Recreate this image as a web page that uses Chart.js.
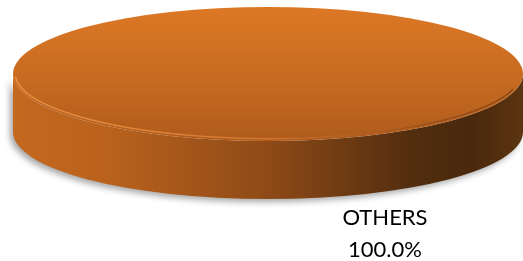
<!DOCTYPE html>
<html>
<head>
<meta charset="utf-8">
<script src="https://cdn.jsdelivr.net/npm/chart.js@4/dist/chart.umd.min.js"></script>
<style>
  html, body { margin: 0; padding: 0; background: #fff; }
  #wrap { width: 523px; height: 261px; position: relative; }
</style>
</head>
<body>
<div id="wrap"><canvas id="c" width="523" height="261"></canvas></div>
<script>
// ---- data ----
const categories = ['OTHERS'];
const seriesValues = [100];

// ---- 3D projection style (not data) ----
const VIEW = { cx: 268, cy: 74, rx: 255, ry: 67, depth: 58 };
const LABEL_FONT = '22px Lato, "Open Sans", sans-serif';

const pie3d = {
  id: 'pie3d',
  beforeDatasetsDraw(chart) {
    const ctx = chart.ctx;
    const a = chart.getDatasetMeta(0).data[0];
    const { cx, cy, rx, ry, depth } = VIEW;
    // side wall
    ctx.save();
    ctx.beginPath();
    ctx.ellipse(cx, cy, rx, ry, 0, 0, Math.PI, false);
    ctx.lineTo(cx - rx, cy + depth);
    ctx.ellipse(cx, cy + depth, rx, ry, 0, Math.PI, 0, true);
    ctx.closePath();
    const g = ctx.createLinearGradient(cx - rx, 0, cx + rx, 0);
    g.addColorStop(0, '#C3681F');
    g.addColorStop(0.18, '#BA621D');
    g.addColorStop(0.5, '#8E4A17');
    g.addColorStop(0.78, '#532E0F');
    g.addColorStop(0.9, '#4A280C');
    g.addColorStop(1, '#5C3411');
    ctx.shadowColor = 'rgba(0,0,0,0.35)';
    ctx.shadowBlur = 6;
    ctx.shadowOffsetX = -3;
    ctx.shadowOffsetY = 3;
    ctx.fillStyle = g;
    ctx.fill();
    ctx.restore();
    // transform top face
    ctx.save();
    const r = a.outerRadius;
    ctx.translate(cx, cy);
    ctx.scale(rx / r, ry / r);
    ctx.translate(-a.x, -a.y);
  },
  afterDatasetsDraw(chart) {
    const ctx = chart.ctx;
    ctx.restore();
    const { cx, cy, rx, ry } = VIEW;
    // rim highlight
    ctx.save();
    ctx.beginPath();
    ctx.ellipse(cx, cy - 1, rx - 2, ry - 1.5, 0, 0.08 * Math.PI, 0.98 * Math.PI, false);
    const hg = ctx.createLinearGradient(cx - rx, 0, cx + rx, 0);
    hg.addColorStop(0, 'rgba(240,150,70,0.9)');
    hg.addColorStop(0.5, 'rgba(230,135,60,0.6)');
    hg.addColorStop(0.85, 'rgba(120,60,20,0.5)');
    hg.addColorStop(1, 'rgba(90,45,15,0.6)');
    ctx.strokeStyle = hg;
    ctx.lineWidth = 1.5;
    ctx.stroke();
    ctx.restore();
    // labels
    const total = seriesValues.reduce((s, v) => s + v, 0);
    ctx.save();
    ctx.fillStyle = '#000';
    ctx.font = LABEL_FONT;
    ctx.textAlign = 'center';
    ctx.textBaseline = 'alphabetic';
    const lx = 385;
    seriesValues.forEach((v, i) => {
      ctx.fillText(categories[i], lx, 225);
      ctx.fillText((v / total * 100).toFixed(1) + '%', lx, 257);
    });
    ctx.restore();
  }
};

new Chart(document.getElementById('c'), {
  type: 'pie',
  data: {
    labels: categories,
    datasets: [{
      data: seriesValues,
      borderWidth: 0,
      backgroundColor: (context) => {
        const chart = context.chart;
        const ca = chart.chartArea;
        if (!ca || !isFinite(ca.top) || !isFinite(ca.bottom)) return '#C86C21';
        const y = (ca.top + ca.bottom) / 2;
        const r = Math.min(ca.right - ca.left, ca.bottom - ca.top) / 2;
        const g = chart.ctx.createLinearGradient(0, y - r, 0, y + r);
        g.addColorStop(0, '#DC7825');
        g.addColorStop(0.5, '#C86C21');
        g.addColorStop(1, '#B05B1C');
        return g;
      }
    }]
  },
  options: {
    responsive: false,
    animation: false,
    events: [],
    layout: { padding: 0 },
    plugins: { legend: { display: false }, tooltip: { enabled: false } }
  },
  plugins: [pie3d]
});
</script>
</body>
</html>
